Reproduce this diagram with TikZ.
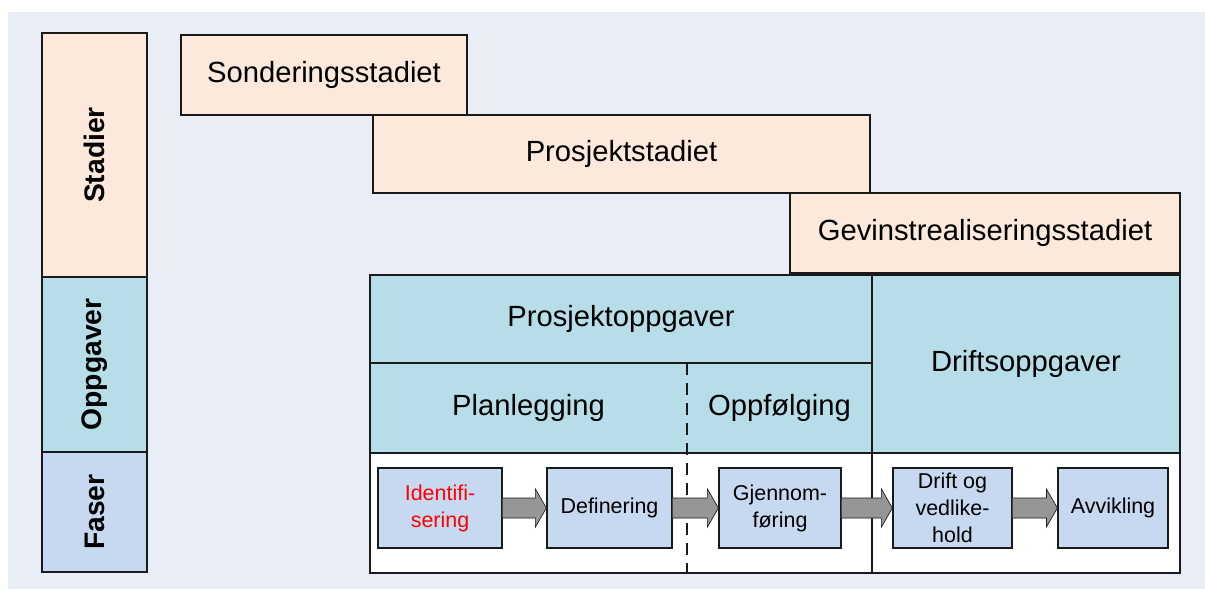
\documentclass[tikz,border=0pt]{standalone}
\usepackage{fontspec}
\setmainfont{Liberation Sans}
\usetikzlibrary{calc}
\definecolor{bgc}{HTML}{E9EDF5}
\definecolor{peach}{HTML}{FCE9DB}
\definecolor{teal}{HTML}{B7DEE8}
\definecolor{phase}{HTML}{C6D9F0}
\definecolor{arrowgray}{HTML}{969696}
\definecolor{linec}{HTML}{1A1A1A}
\tikzset{
  box/.style={draw=linec, line width=0.9pt, inner sep=0pt, align=center},
  stagebox/.style={box, fill=peach, font=\fontsize{21.9}{26}\selectfont},
  taskbox/.style={box, fill=teal, font=\fontsize{21.9}{26}\selectfont},
  sidelabel/.style={box, font=\bfseries\fontsize{21.2}{25}\selectfont},
  phasebox/.style={box, fill=phase, minimum height=60pt, font=\fontsize{16.1}{20.25}\selectfont},
  bigtext/.style={inner sep=0pt, font=\fontsize{21.9}{26}\selectfont},
  barrow/.style={draw=linec, line width=0.5pt, fill=arrowgray},
  divline/.style={draw=linec, line width=0.9pt},
}
\newcommand{\blockarrow}[2]{%
  \path[barrow] ($(#1.east)+(0,-10)$) -- ($(#2.west)+(-11,-10)$) -- ($(#2.west)+(-11,-19)$) -- (#2.west)
    -- ($(#2.west)+(-11,19)$) -- ($(#2.west)+(-11,10)$) -- ($(#1.east)+(0,10)$);}
\begin{document}
\begin{tikzpicture}[x=0.75pt, y=-0.75pt]
\useasboundingbox (0,0) rectangle (1205,589);
\fill[bgc] (8,12) rectangle (1205,589);

% left column
\node[sidelabel, fill=peach, minimum width=78.75pt, minimum height=183pt] (stadier) at (94.5,155) {};
\node[rotate=90, font=\bfseries\fontsize{21.2}{25}\selectfont] (stadiertxt) at (stadier.center) {Stadier};
\node[sidelabel, fill=teal, minimum width=78.75pt, minimum height=131.25pt] (oppgaver) at (94.5,364.5) {};
\node[rotate=90, font=\bfseries\fontsize{21.2}{25}\selectfont] (oppgavertxt) at (oppgaver.center) {Oppgaver};
\node[sidelabel, fill=phase, minimum width=78.75pt, minimum height=90pt] (faser) at (94.5,512) {};
\node[rotate=90, font=\bfseries\fontsize{21.2}{25}\selectfont] (fasertxt) at (faser.center) {Faser};

% stages
\node[stagebox, minimum width=214.5pt, minimum height=60pt] (sond) at (324,75) {Sonderingsstadiet};
\node[stagebox, minimum width=372.75pt, minimum height=58.5pt] (prosj) at (621.5,154) {Prosjektstadiet};
\node[stagebox, minimum width=292.5pt, minimum height=60pt] (gevinst) at (985,233) {Gevinstrealiseringsstadiet};

% tasks
\node[taskbox, minimum width=376.5pt, minimum height=66pt] (prosjopp) at (621,319) {Prosjektoppgaver};
\node[taskbox, minimum width=376.5pt, minimum height=67.5pt] (planopp) at (621,408) {};
\node[bigtext] (plan) at (528.5,408) {Planlegging};
\node[bigtext] (oppf) at (779.5,408) {Oppfølging};
\node[taskbox, minimum width=231pt, minimum height=133.5pt] (drift) at (1026,364) {Driftsoppgaver};

% phases area
\node[box, fill=white, minimum width=607.5pt, minimum height=90pt] (phasearea) at (775,513) {};
\coordinate (dtop) at (687,363);
\coordinate (dbot) at (687,573);
\draw[divline, dash pattern=on 9pt off 6pt] (dtop) -- (dbot);
\coordinate (stop) at (872,453);
\coordinate (sbot) at (872,573);
\draw[divline] (stop) -- (sbot);

\node[phasebox, minimum width=93pt, text=red] (ident) at (440,508) {Identifi-\\sering};
\node[phasebox, minimum width=93.75pt] (def) at (609.5,508) {Definering};
\node[phasebox, minimum width=91.5pt] (gjen) at (780,508) {Gjennom-\\føring};
\node[phasebox, minimum width=89.25pt] (driftv) at (952.5,508) {Drift og\\vedlike-\\hold};
\node[phasebox, minimum width=82.5pt] (avvik) at (1113,508) {Avvikling};

\blockarrow{ident}{def}
\blockarrow{def}{gjen}
\blockarrow{gjen}{driftv}
\blockarrow{driftv}{avvik}
\end{tikzpicture}
\end{document}
